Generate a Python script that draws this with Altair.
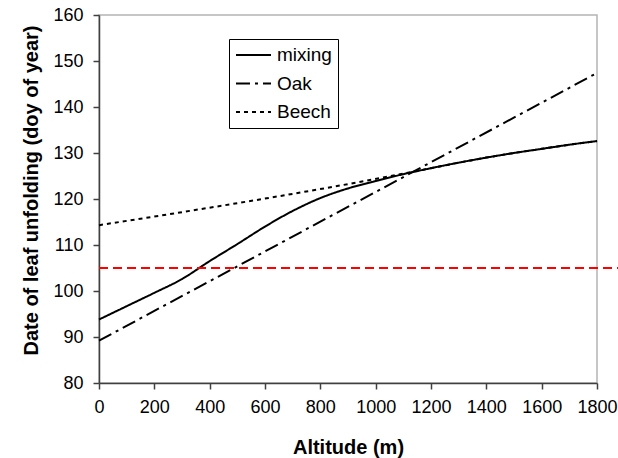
import altair as alt
import pandas as pd

# ---- data ----
series_names = ["mixing", "Oak", "Beech"]

mixing_alt = [0, 100, 200, 300, 400, 500, 600, 700, 800, 900,
              1000, 1100, 1200, 1300, 1400, 1500, 1600, 1700, 1800]
mixing_val = [93.8, 96.7, 99.6, 102.6, 106.5, 110.2, 114.0, 117.4, 120.2, 122.3,
              123.9, 125.4, 126.7, 127.9, 129.0, 130.0, 130.9, 131.8, 132.6]

oak_alt = [0, 1800]
oak_val = [89.2, 147.4]

beech_alt = [0, 1150, 1200, 1300, 1400, 1500, 1600, 1700, 1800]
beech_val = [114.3, 126.1, 126.7, 127.9, 129.0, 130.0, 130.9, 131.8, 132.6]

threshold = [105]

x_ticks = [0, 200, 400, 600, 800, 1000, 1200, 1400, 1600, 1800]
y_ticks = [80, 90, 100, 110, 120, 130, 140, 150, 160]

# draw order: Beech first, Oak, then mixing on top
rows = []
for a, v in zip(beech_alt, beech_val):
    rows.append({"alt": a, "val": v, "series": "Beech"})
for a, v in zip(oak_alt, oak_val):
    rows.append({"alt": a, "val": v, "series": "Oak"})
for a, v in zip(mixing_alt, mixing_val):
    rows.append({"alt": a, "val": v, "series": "mixing"})
df = pd.DataFrame(rows)

FONT = "Liberation Sans"

x_enc = alt.X(
    "alt:Q",
    scale=alt.Scale(domain=[0, 1800], nice=False, zero=False),
    axis=alt.Axis(
        values=x_ticks, format="d", title="Altitude (m)", grid=False, labelFlush=False,
        labelFont=FONT, labelFontSize=18, labelColor="black", labelPadding=9,
        tickSize=6, tickColor="#404040", tickWidth=1.5,
        domainColor="#404040", domainWidth=1.5,
        titleFont=FONT, titleFontSize=20, titleFontWeight="bold", titleColor="black",
        titleBaseline="middle", titleY=64,
    ),
)
y_enc = alt.Y(
    "val:Q",
    scale=alt.Scale(domain=[80, 160], nice=False, zero=False),
    axis=alt.Axis(
        values=y_ticks, format="d", title="Date of leaf unfolding (doy of year)", grid=False,
        labelFont=FONT, labelFontSize=18, labelColor="black", labelPadding=10,
        tickSize=6, tickColor="#404040", tickWidth=1.5,
        domainColor="#404040", domainWidth=1.5,
        titleFont=FONT, titleFontSize=20, titleFontWeight="bold", titleColor="black",
        titleBaseline="middle", titleX=-68, titleY=175,
    ),
)

lines = alt.Chart(df).mark_line(color="black", strokeWidth=2, interpolate="monotone").encode(
    x=x_enc,
    y=y_enc,
    strokeDash=alt.StrokeDash(
        "series:N",
        scale=alt.Scale(domain=series_names, range=[[1, 0], [14, 5, 3, 5], [4, 4]]),
        legend=alt.Legend(
            title=None, orient="none", legendX=130, legendY=24,
            symbolType="stroke", symbolSize=1225, symbolStrokeWidth=2,
            symbolStrokeColor="black", clipHeight=20, rowPadding=8.5,
            labelOffset=5, labelFont=FONT, labelFontSize=19, labelColor="black",
            padding=6, strokeColor="black", fillColor="white",
        ),
    ),
)

red = alt.Chart(pd.DataFrame({"val": threshold})).mark_rule(
    color="#ff0000", strokeWidth=2, strokeDash=[9, 5]
).encode(
    y=alt.Y("val:Q"),
    x=alt.value(0),
    x2=alt.value(521),
)

chart = alt.layer(lines, red).properties(
    width=498,
    height=368,
    autosize=alt.AutoSizeParams(type="none"),
    padding={"left": 99, "top": 15, "right": 21, "bottom": 75},
    background="white",
).configure_view(stroke="#b4b4b4", strokeWidth=1.5)

chart.save("out.html", embed_options={"renderer": "svg", "actions": False})
